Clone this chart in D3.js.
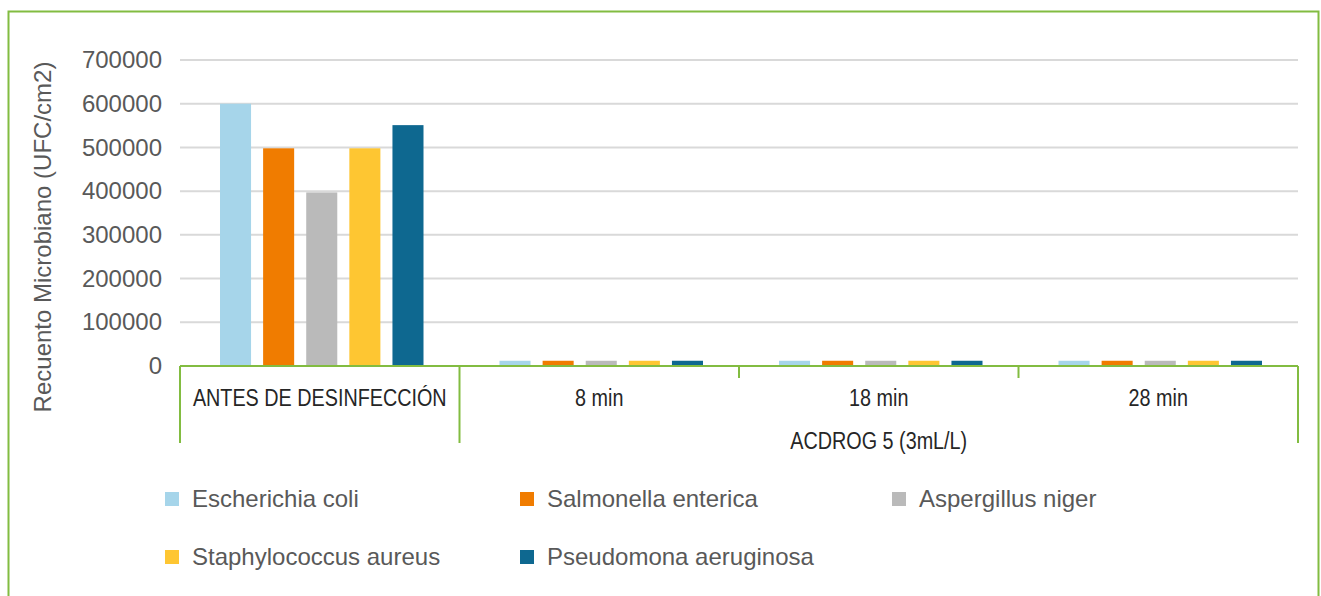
<!DOCTYPE html>
<html>
<head>
<meta charset="utf-8">
<script src="https://cdn.jsdelivr.net/npm/d3@7"></script>
<style>
  body { margin: 0; background: #fff; }
  svg { font-family: "Liberation Sans", Arial, sans-serif; }
</style>
</head>
<body>
<svg id="chart" width="1321" height="596"></svg>
<script>

    // data
    const categories = ["ANTES DE DESINFECCIÓN", "8 min", "18 min", "28 min"];
    const groupLabel = "ACDROG 5 (3mL/L)";
    const seriesNames = ["Escherichia coli", "Salmonella enterica", "Aspergillus niger", "Staphylococcus aureus", "Pseudomona aeruginosa"];
    const seriesColors = ["#a6d5ea", "#f07c00", "#bababa", "#fec632", "#0e6890"];
    const escherichia = [600000, 12000, 12000, 12000];
    const salmonella = [498000, 12000, 12000, 12000];
    const aspergillus = [397000, 12000, 12000, 12000];
    const staphylococcus = [498000, 12000, 12000, 12000];
    const pseudomona = [551000, 12000, 12000, 12000];
    const yTicks = [0, 100000, 200000, 300000, 400000, 500000, 600000, 700000];

    const allSeries = [escherichia, salmonella, aspergillus, staphylococcus, pseudomona];
    const green = "#82bc41";
    const svg = d3.select("#chart");

    // outer frame
    svg.append("rect").attr("x", 8.5).attr("y", 11.5).attr("width", 1310).attr("height", 600)
        .attr("fill", "none").attr("stroke", green).attr("stroke-width", 2);

    const plot = { left: 180, right: 1298, top: 60, bottom: 366 };

    const x = d3.scaleBand().domain(categories).range([plot.left, plot.right]);
    const xInner = d3.scaleBand().domain(seriesNames).range([40, x.bandwidth() - 36]).paddingInner(0.28);
    const y = d3.scaleLinear().domain([0, 700000]).range([plot.bottom, plot.top]);

    // gridlines
    svg.append("g").selectAll("line").data(yTicks.slice(1)).enter().append("line")
        .attr("x1", plot.left).attr("x2", plot.right)
        .attr("y1", d => y(d)).attr("y2", d => y(d))
        .attr("stroke", "#d9d9d9").attr("stroke-width", 2);

    // y axis labels
    const yAxis = d3.axisLeft(y).tickValues(yTicks).tickSize(0).tickPadding(18).tickFormat(d3.format("d"));
    const yg = svg.append("g").attr("transform", "translate(" + plot.left + ",0)").call(yAxis);
    yg.select(".domain").remove();
    yg.selectAll("text").attr("font-size", 24).attr("fill", "#595959")
        .attr("font-family", "Liberation Sans, Arial, sans-serif");

    svg.append("text").attr("transform", "translate(51," + 237 + ") rotate(-90)")
        .attr("text-anchor", "middle").attr("font-size", 24).attr("fill", "#595959")
        .text("Recuento Microbiano (UFC/cm2)");

    // bars
    const groups = svg.append("g").selectAll("g").data(categories).enter().append("g")
        .attr("transform", d => "translate(" + x(d) + ",0)");
    groups.selectAll("rect").data((c, i) => allSeries.map((s, k) => ({ name: seriesNames[k], value: s[i], k: k })))
        .enter().append("rect")
        .attr("x", d => xInner(d.name))
        .attr("width", xInner.bandwidth())
        .attr("y", d => y(d.value))
        .attr("height", d => plot.bottom - y(d.value))
        .attr("fill", d => seriesColors[d.k]);

    // category axis with bracket lines
    const axis = svg.append("g").attr("stroke", green).attr("stroke-width", 2);
    axis.append("line").attr("x1", plot.left).attr("x2", plot.right).attr("y1", plot.bottom).attr("y2", plot.bottom);
    const edges = categories.map(c => x(c)).concat([plot.right]);
    edges.forEach((e, i) => {
        const full = (i === 0 || i === 1 || i === edges.length - 1);
        axis.append("line").attr("x1", e).attr("x2", e)
            .attr("y1", plot.bottom).attr("y2", full ? 443 : 378);
    });

    // category labels look condensed, no narrow face here so squeeze horizontally
    const squeeze = 0.86;
    svg.append("g").selectAll("text").data(categories).enter().append("text")
        .attr("transform", d => "translate(" + (x(d) + x.bandwidth() / 2) + ",406) scale(" + squeeze + ",1)")
        .attr("text-anchor", "middle").attr("font-size", 23).attr("fill", "#262626")
        .text(d => d);

    svg.append("text")
        .attr("transform", "translate(" + (x(categories[1]) + plot.right) / 2 + ",449) scale(" + squeeze + ",1)")
        .attr("text-anchor", "middle").attr("font-size", 23).attr("fill", "#262626")
        .text(groupLabel);

    // legend
    const legendPos = [[165, 499], [520, 499], [892, 499], [165, 557], [520, 557]];
    const legend = svg.append("g").selectAll("g").data(seriesNames).enter().append("g")
        .attr("transform", (d, i) => "translate(" + legendPos[i][0] + "," + legendPos[i][1] + ")");
    legend.append("rect").attr("x", 0).attr("y", -7).attr("width", 14).attr("height", 14)
        .attr("fill", (d, i) => seriesColors[i]);
    legend.append("text").attr("x", 27).attr("y", 8).attr("font-size", 24).attr("fill", "#595959")
        .text(d => d);

</script>
</body>
</html>
